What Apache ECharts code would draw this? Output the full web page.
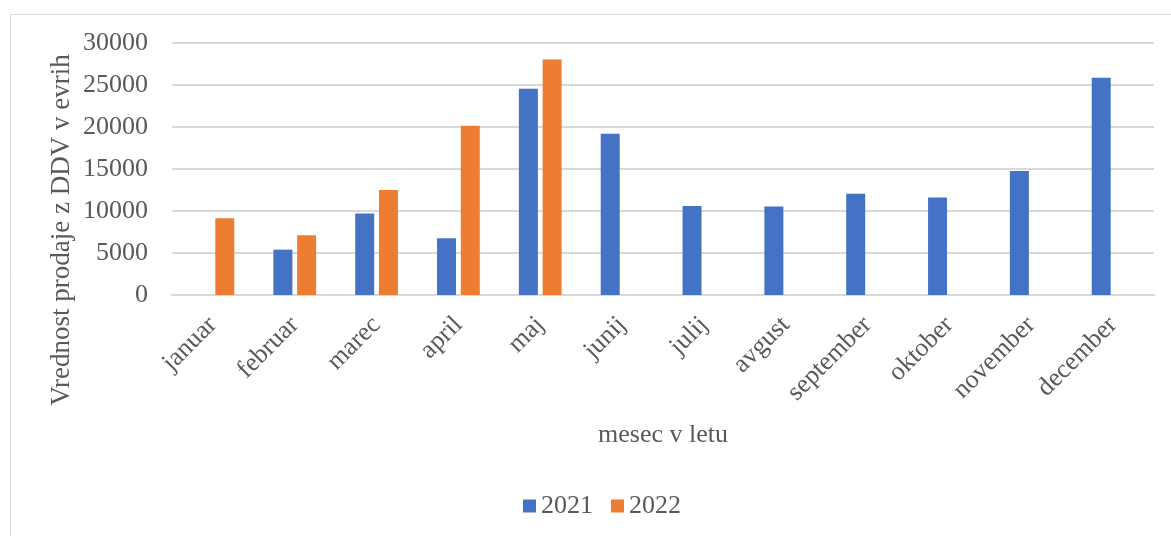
<!DOCTYPE html>
<html>
<head>
<meta charset="utf-8">
<script src="https://cdn.jsdelivr.net/npm/echarts@6/dist/echarts.min.js"></script>
<style>
  html, body { margin: 0; padding: 0; background: #fff; }
  #chart { width: 1171px; height: 536px; }
</style>
</head>
<body>
<div id="chart"></div>
<script>
// Monthly sales value (incl. VAT, EUR) by month, for 2021 and 2022
const months = ['januar', 'februar', 'marec', 'april', 'maj', 'junij', 'julij',
                'avgust', 'september', 'oktober', 'november', 'december'];
const sales2021 = [null, 5400, 9700, 6750, 24550, 19200, 10600, 10550, 12050, 11600, 14750, 25850];
const sales2022 = [9150, 7100, 12500, 20150, 28050, null, null, null, null, null, null, null];
const seriesNames = ['2021', '2022'];
const yTicks = { min: 0, max: 30000, interval: 5000 };

const FONT = '"Liberation Serif", "Times New Roman", serif';
const TEXT = '#595959';
const SIZE = 26;

const chart = echarts.init(document.getElementById('chart'), null, { renderer: 'canvas' });

chart.setOption({
  animation: false,
  backgroundColor: '#ffffff',
  textStyle: { fontFamily: FONT, color: TEXT },
  grid: { left: 172, right: 17, top: 43, bottom: 241, containLabel: false },
  graphic: [
    {
      type: 'rect',
      shape: { x: 10.5, y: 14.5, width: 1175, height: 540 },
      style: { fill: 'none', stroke: '#d9d9d9', lineWidth: 1 },
      silent: true
    },
    {
      type: 'text',
      x: 62, y: 230,
      rotation: Math.PI / 2,
      style: {
        text: 'Vrednost prodaje z DDV v evrih',
        font: '27px ' + FONT,
        fill: TEXT,
        align: 'center',
        verticalAlign: 'middle'
      }
    }
  ],
  legend: {
    data: seriesNames,
    bottom: 12,
    left: 518,
    itemWidth: 13,
    itemHeight: 13,
    itemGap: 18,
    icon: 'rect',
    textStyle: { fontFamily: FONT, fontSize: SIZE, color: TEXT }
  },
  xAxis: {
    type: 'category',
    data: months,
    name: 'mesec v letu',
    nameLocation: 'middle',
    nameGap: 127,
    nameTextStyle: { fontFamily: FONT, fontSize: SIZE, color: TEXT },
    axisLine: { show: true, lineStyle: { color: '#d9d9d9', width: 2 } },
    axisTick: { show: false },
    axisLabel: {
      rotate: 45,
      margin: 26,
      interval: 0,
      fontFamily: FONT,
      fontSize: SIZE,
      color: TEXT
    }
  },
  yAxis: {
    type: 'value',
    min: yTicks.min,
    max: yTicks.max,
    interval: yTicks.interval,
    axisLine: { show: false },
    axisTick: { show: false },
    axisLabel: {
      margin: 24,
      fontFamily: FONT,
      fontSize: SIZE,
      color: TEXT,
      formatter: v => String(v)
    },
    splitLine: { lineStyle: { color: '#d9d9d9', width: 2 } }
  },
  series: [
    {
      name: seriesNames[0],
      type: 'bar',
      data: sales2021,
      barWidth: 19,
      barGap: '25%',
      itemStyle: { color: '#4472C4' }
    },
    {
      name: seriesNames[1],
      type: 'bar',
      data: sales2022,
      barWidth: 19,
      barGap: '25%',
      itemStyle: { color: '#ED7D31' }
    }
  ]
});
</script>
</body>
</html>
